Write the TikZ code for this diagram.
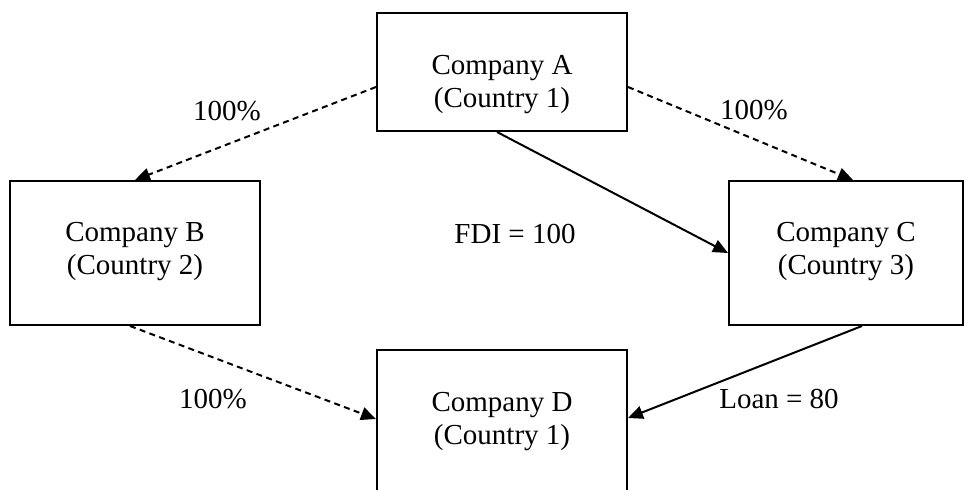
\documentclass[tikz,border=0pt]{standalone}
\usepackage{fontspec}
\setmainfont{Liberation Serif}
\usetikzlibrary{arrows.meta,calc}
\begin{document}
\begin{tikzpicture}[x=0.5pt,y=-0.5pt,
  box/.style={draw,line width=1pt,inner sep=0pt},
  lbl/.style={font=\fontsize{14.5pt}{16.5pt}\selectfont,align=center,inner sep=0pt},
  conn/.style={line width=1pt,-{Triangle[length=7.5pt,width=6.5pt]}},
  own/.style={conn,dash pattern=on 3pt off 2.2pt}]
\useasboundingbox (0,0) rectangle (965,490);
\clip (0,0) rectangle (965,490);
\node[box,minimum width=125pt,minimum height=59pt] (A) at (502,72) {};
\node[box,minimum width=125pt,minimum height=72pt] (B) at (135,253) {};
\node[box,minimum width=117pt,minimum height=72pt] (C) at (846,253) {};
\node[box,minimum width=125pt,minimum height=105pt] (D) at (502,455) {};
\node[lbl] (tA) at (502,85) {Company A\\(Country 1)};
\node[lbl] (tB) at (135,252) {Company B\\(Country 2)};
\node[lbl] (tC) at (846,252) {Company C\\(Country 3)};
\node[lbl] (tD) at (502,422) {Company D\\(Country 1)};
\coordinate (a1) at ($(A.west)+(0,15)$);
\coordinate (a2) at ($(A.east)+(0,15)$);
\coordinate (a3) at ($(A.south)+(-5,0)$);
\coordinate (b1) at ($(B.south)+(-5,0)$);
\coordinate (c1) at ($(C.north)+(7,0)$);
\coordinate (c2) at ($(C.south)+(16,0)$);
\coordinate (d1) at ($(D.north west)+(0,70)$);
\coordinate (d2) at ($(D.north east)+(0,69)$);
\draw[own] (a1) -- (B.north);
\draw[own] (a2) -- (c1);
\draw[conn] (a3) -- (C.west);
\draw[own] (b1) -- (d1);
\draw[conn] (c2) -- (d2);
\node[lbl] (p1) at (227,111) {100\%};
\node[lbl] (p2) at (754,110) {100\%};
\node[lbl] (fdi) at (515,234) {FDI = 100};
\node[lbl] (p3) at (213,399) {100\%};
\node[lbl] (loan) at (779,399) {Loan = 80};
\end{tikzpicture}
\end{document}
